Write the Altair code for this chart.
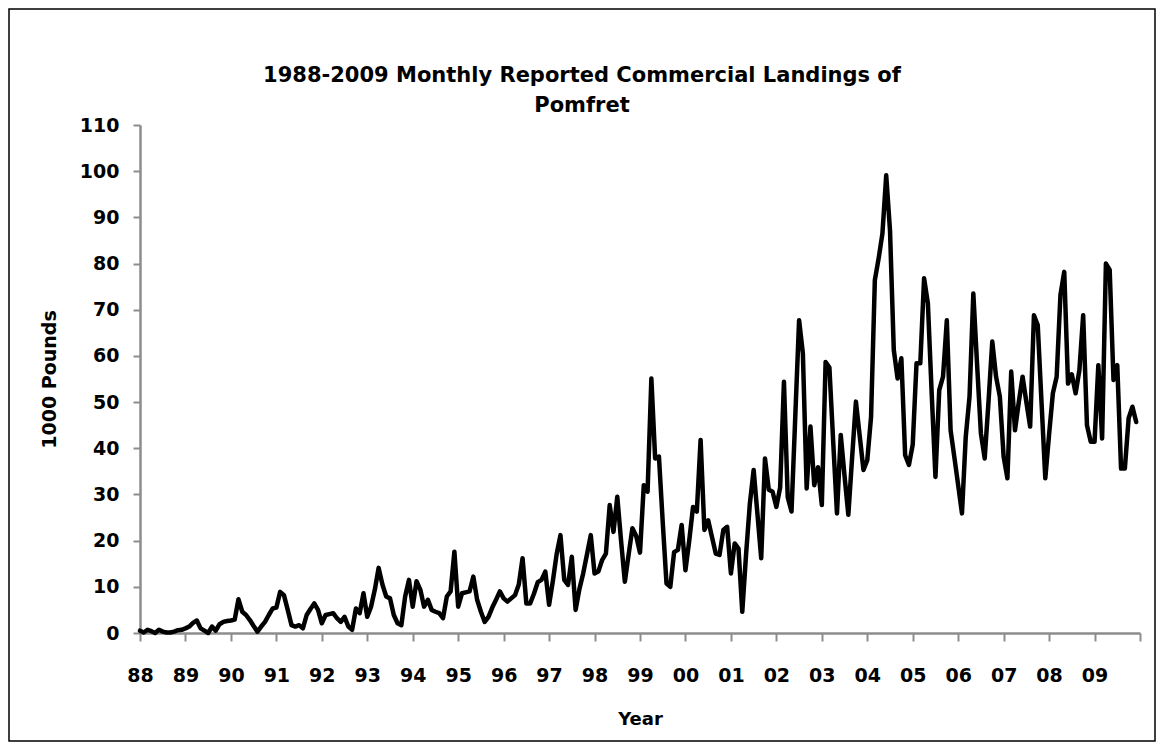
import altair as alt
import pandas as pd

# Monthly landings (1000 pounds)
y1988 = [0.5, 0.1, 0.7, 0.4, 0.0, 0.7, 0.3, 0.1, 0.1, 0.3, 0.6, 0.7]
y1989 = [1.0, 1.4, 2.2, 2.7, 1.0, 0.5, 0.0, 1.4, 0.5, 1.9, 2.4, 2.6]
y1990 = [2.7, 2.9, 7.3, 4.6, 3.9, 2.8, 1.5, 0.3, 1.4, 2.4, 3.9, 5.3]
y1991 = [5.5, 8.9, 8.2, 5.0, 1.7, 1.4, 1.7, 1.0, 3.9, 5.2, 6.4, 5.0]
y1992 = [2.1, 3.9, 4.1, 4.3, 3.2, 2.4, 3.5, 1.4, 0.7, 5.3, 4.3, 8.6]
y1993 = [3.5, 5.7, 9.4, 14.1, 10.5, 7.9, 7.5, 3.9, 2.1, 1.7, 7.9, 11.5]
y1994 = [5.7, 11.2, 9.4, 5.7, 7.2, 5.0, 4.6, 4.3, 3.2, 7.9, 9.0, 17.6]
y1995 = [5.7, 8.6, 8.8, 9.0, 12.2, 7.2, 4.6, 2.4, 3.5, 5.5, 7.2, 9.0]
y1996 = [7.5, 6.8, 7.5, 8.2, 10.5, 16.2, 6.4, 6.4, 8.5, 11.0, 11.5, 13.3]
y1997 = [6.1, 11.3, 17.1, 21.2, 11.5, 10.4, 16.5, 5.0, 9.5, 12.9, 17.0, 21.2]
y1998 = [12.9, 13.3, 15.8, 17.2, 27.7, 21.9, 29.5, 20.0, 11.1, 17.0, 22.7, 21.0]
y1999 = [17.4, 32.0, 30.6, 55.1, 37.8, 38.2, 24.0, 10.7, 10.0, 17.5, 18.0, 23.4]
y2000 = [13.6, 20.0, 27.3, 26.3, 41.8, 22.3, 24.4, 20.8, 17.2, 16.9, 22.3, 23.0]
y2001 = [12.9, 19.4, 18.3, 4.6, 17.0, 28.0, 35.3, 25.8, 16.2, 37.8, 31.0, 30.6]
y2002 = [27.3, 31.5, 54.4, 29.4, 26.3, 47.0, 67.7, 60.5, 31.3, 44.7, 32.0, 35.9]
y2003 = [27.7, 58.7, 57.5, 41.5, 25.9, 42.9, 34.0, 25.6, 38.0, 50.1, 42.7, 35.3]
y2004 = [37.4, 46.8, 76.4, 81.1, 86.5, 99.1, 87.2, 61.3, 55.1, 59.5, 38.5, 36.4]
y2005 = [40.8, 58.4, 58.4, 76.8, 71.4, 52.0, 33.8, 52.6, 55.5, 67.7, 43.9, 38.0]
y2006 = [32.0, 25.9, 42.5, 51.2, 73.5, 58.0, 43.2, 37.8, 50.0, 63.1, 55.5, 51.2]
y2007 = [38.2, 33.5, 56.6, 43.9, 50.0, 55.5, 50.0, 44.7, 68.8, 66.7, 50.0, 33.5]
y2008 = [43.0, 51.9, 55.5, 73.2, 78.2, 54.0, 56.0, 51.9, 56.9, 68.8, 45.0, 41.4]
y2009 = [41.4, 58.0, 42.1, 80.0, 78.6, 54.8, 58.0, 35.6, 35.6, 46.5, 49.0, 45.7]

year_labels = ["88", "89", "90", "91", "92", "93", "94", "95", "96", "97", "98",
               "99", "00", "01", "02", "03", "04", "05", "06", "07", "08", "09"]
y_ticks = [0, 10, 20, 30, 40, 50, 60, 70, 80, 90, 100, 110]

title_line1 = "1988-2009 Monthly Reported Commercial Landings of"
title_line2 = "Pomfret"
x_title = "Year"
y_title = "1000 Pounds"

all_years = [y1988, y1989, y1990, y1991, y1992, y1993, y1994, y1995, y1996, y1997, y1998,
             y1999, y2000, y2001, y2002, y2003, y2004, y2005, y2006, y2007, y2008, y2009]
values = [v for yr in all_years for v in yr]
n_months = len(values)
df = pd.DataFrame({"month": list(range(n_months)), "landings": values})

label_array = "[" + ",".join("'%s'" % s for s in year_labels + [""]) + "]"
x_tick_values = list(range(0, n_months + 1, 12))

FONT = "DejaVu Sans"
AXIS_GRAY = "#8c8c8c"

line = alt.Chart(df).mark_line(
    color="#000000", strokeWidth=4.5, strokeJoin="round", strokeCap="round"
).encode(
    x=alt.X(
        "month:Q",
        scale=alt.Scale(domain=[0, n_months], nice=False, zero=False),
        axis=alt.Axis(
            values=x_tick_values,
            labelExpr=label_array + "[round(datum.value / 12)]",
            title=x_title,
            tickSize=8,
            labelPadding=25,
            titlePadding=25,
            titleFontSize=18,
            labelFlush=False,
            labelOverlap=False,
            grid=False,
        ),
    ),
    y=alt.Y(
        "landings:Q",
        scale=alt.Scale(domain=[0, 110], nice=False),
        axis=alt.Axis(
            values=y_ticks,
            title=y_title,
            tickSize=7,
            labelPadding=14,
            titlePadding=20,
            titleFontSize=19,
            grid=False,
        ),
    ),
)

frame = alt.Chart(pd.DataFrame({"k": [0]})).mark_rect(
    fill="transparent", stroke="#000000", strokeWidth=1.5
).encode(
    x=alt.value(-131), x2=alt.value(1015), y=alt.value(-116), y2=alt.value(616)
)

title_df = pd.DataFrame({"t": [0]})
title1 = alt.Chart(title_df).mark_text(
    font=FONT, fontSize=21, fontWeight="bold", color="#000000",
    align="center", baseline="alphabetic"
).encode(x=alt.value(442), y=alt.value(-43), text=alt.value(title_line1))
title2 = alt.Chart(title_df).mark_text(
    font=FONT, fontSize=21, fontWeight="bold", color="#000000",
    align="center", baseline="alphabetic"
).encode(x=alt.value(442), y=alt.value(-13), text=alt.value(title_line2))

chart = alt.layer(frame, line, title1, title2).properties(
    width=1000,
    height=508,
    autosize=alt.AutoSizeParams(type="none"),
    padding={"left": 132, "top": 117, "right": 16, "bottom": 109},
    background="#ffffff",
).configure_view(
    stroke=None
).configure_axis(
    grid=False,
    domainColor=AXIS_GRAY,
    domainWidth=2.5,
    tickColor=AXIS_GRAY,
    tickWidth=2,
    labelFont=FONT,
    labelFontSize=19,
    labelFontWeight="bold",
    labelColor="#000000",
    titleFont=FONT,
    titleFontWeight="bold",
    titleColor="#000000",
)

chart.save("out.html", embed_options={"renderer": "svg", "actions": False})
